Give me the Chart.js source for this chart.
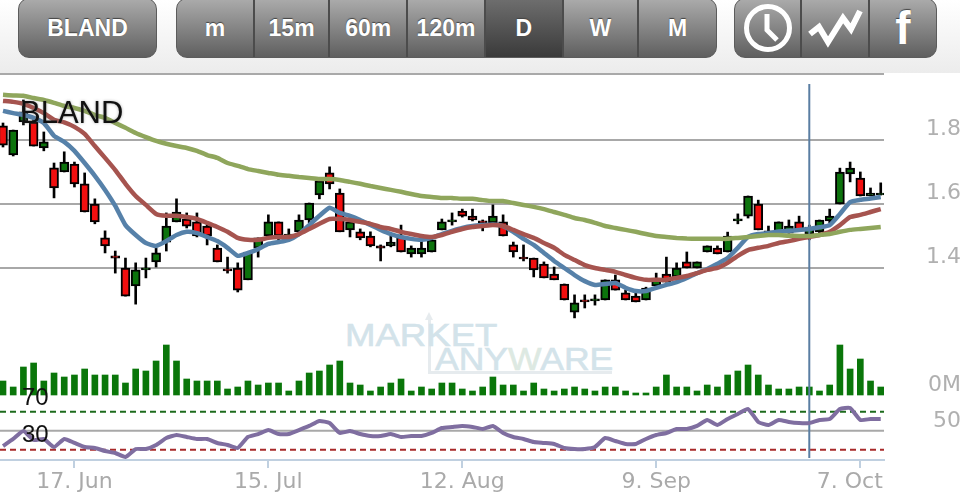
<!DOCTYPE html>
<html>
<head>
<meta charset="utf-8">
<title>BLAND</title>
<script src="https://cdn.jsdelivr.net/npm/chart.js@4"></script>
<style>
html, body { margin: 0; padding: 0; background: #fff; }
#page { position: relative; width: 960px; height: 494px; overflow: hidden; background: #fff; }
#head { position: absolute; left: 0; top: 0; width: 960px; height: 73px; background: linear-gradient(#ffffff, #ececec); }
#rule { position: absolute; left: 0; top: 73px; width: 884px; height: 2px; background: #a9a9a9; }
.group { position: absolute; top: -2px; height: 60px; border: 1px solid #5c5c5c; border-radius: 11px; overflow: hidden; display: flex;
  background: linear-gradient(#ababab, #5f5f5f); box-sizing: border-box; }
.seg { height: 100%; box-sizing: border-box; border-right: 2px solid #4c4c4c; color: #fff; font: bold 23px "Liberation Sans", sans-serif;
  display: flex; align-items: center; justify-content: center; text-shadow: 0 -1px 1px #444; }
.seg:last-child { border-right: 0; }
.seg.on { background: linear-gradient(#6e6e6e, #3a3a3a); }
#mark { position: absolute; left: 345px; top: 312px; width: 270px; height: 66px; color: #d3e3ea; font-family: "Liberation Sans", sans-serif; -webkit-text-stroke: 0.6px #d3e3ea; }
#mark div { position: absolute; white-space: nowrap; transform-origin: 0 0; }
#box { left: 83px; top: 6px; width: 184px; height: 56px; border-left: 3px solid #e6ebee; border-bottom: 3px solid #e6ebee; box-sizing: border-box; }
#tip { left: 80px; top: 0; width: 0; height: 0; border-left: 4.5px solid transparent; border-right: 4.5px solid transparent; border-bottom: 8px solid #e6ebee; }
canvas { position: absolute; left: 0; top: 0; }
</style>
</head>
<body>
<div id="page">
  <div id="head"></div>
  <div id="rule"></div>
  <div class="group" style="left:18px;width:139px"><div class="seg" style="width:100%">BLAND</div></div>
  <div class="group" style="left:176px;width:541px">
    <div class="seg" style="width:78px">m</div>
    <div class="seg" style="width:76px">15m</div>
    <div class="seg" style="width:78px">60m</div>
    <div class="seg" style="width:78px">120m</div>
    <div class="seg on" style="width:78px">D</div>
    <div class="seg" style="width:76px">W</div>
    <div class="seg" style="width:77px">M</div>
  </div>
  <div class="group" style="left:734px;width:203px">
    <div class="seg" style="width:67px">
      <svg width="52" height="52" viewBox="0 0 52 52"><circle cx="26" cy="26" r="21.5" fill="none" stroke="#fff" stroke-width="5"/><polyline points="25,12 25,28 35,38" fill="none" stroke="#fff" stroke-width="5"/></svg>
    </div>
    <div class="seg" style="width:68px">
      <svg width="56" height="44" viewBox="0 0 56 44"><polyline points="3,28 12,21 21,36 36,12 44,23 53,5" fill="none" stroke="#fff" stroke-width="6"/></svg>
    </div>
    <div class="seg" style="width:66px;font-size:46px">f</div>
  </div>
  <div id="mark">
    <div id="box"></div>
    <div id="tip"></div>
    <div style="left:0;top:6px;font-size:31px;transform:scaleX(1.18)">MARKET</div>
    <div style="left:90px;top:29px;font-size:32px;transform:scaleX(1.11)">ANY<span style="color:#dde9e2;-webkit-text-stroke-color:#dde9e2">W</span>ARE</div>
  </div>
  <canvas id="chart" width="960" height="494"></canvas>
</div>
<script>
// ticks
const dateTicks = [7, 26, 45, 64, 84];
const dateLabels = ['17. Jun', '15. Jul', '12. Aug', '9. Sep', '7. Oct'];
const priceTicks = [1.4, 1.6, 1.8];
const rsiLines = [70, 50, 30];

// daily candles
const opens = [1.844,1.753,1.856,1.856,1.775,1.713,1.700,1.725,1.663,1.600,
  1.494,1.438,1.400,1.344,1.394,1.419,1.481,1.544,1.553,1.544,
  1.531,1.462,1.397,1.400,1.363,1.462,1.500,1.544,1.500,1.513,
  1.550,1.628,1.697,1.634,1.519,1.513,1.500,1.469,1.469,1.497,
  1.444,1.444,1.450,1.519,1.544,1.578,1.562,1.547,1.541,1.544,
  1.472,1.434,1.431,1.412,1.381,1.350,1.262,1.300,1.297,1.300,
  1.363,1.322,1.312,1.300,1.344,1.381,1.372,1.419,1.400,1.450,
  1.462,1.450,1.547,1.562,1.600,1.509,1.509,1.509,1.544,1.506,
  1.513,1.547,1.600,1.694,1.681,1.625,1.628];
const highs = [1.853,1.831,1.925,1.869,1.825,1.728,1.763,1.731,1.697,1.616,
  1.516,1.453,1.431,1.416,1.431,1.462,1.572,1.616,1.572,1.572,
  1.541,1.472,1.434,1.416,1.450,1.494,1.566,1.544,1.522,1.566,
  1.603,1.672,1.716,1.647,1.559,1.522,1.513,1.472,1.500,1.534,
  1.469,1.494,1.497,1.553,1.572,1.584,1.584,1.550,1.597,1.566,
  1.481,1.472,1.431,1.419,1.403,1.350,1.316,1.316,1.316,1.363,
  1.378,1.331,1.322,1.340,1.384,1.434,1.416,1.450,1.419,1.469,
  1.469,1.512,1.569,1.625,1.612,1.531,1.544,1.550,1.562,1.534,
  1.550,1.584,1.712,1.731,1.700,1.650,1.666];
const lows = [1.778,1.750,1.847,1.781,1.766,1.619,1.700,1.653,1.575,1.538,
  1.447,1.384,1.312,1.287,1.369,1.403,1.453,1.544,1.525,1.497,
  1.472,1.419,1.384,1.325,1.363,1.434,1.500,1.488,1.494,1.513,
  1.541,1.616,1.647,1.513,1.497,1.488,1.466,1.422,1.466,1.450,
  1.434,1.434,1.450,1.519,1.534,1.559,1.547,1.516,1.541,1.500,
  1.434,1.422,1.372,1.369,1.363,1.300,1.244,1.275,1.284,1.300,
  1.331,1.300,1.294,1.300,1.344,1.356,1.372,1.400,1.400,1.450,
  1.444,1.450,1.538,1.556,1.519,1.506,1.503,1.509,1.519,1.488,
  1.509,1.541,1.600,1.669,1.625,1.625,1.628];
const closes = [1.784,1.831,1.888,1.781,1.794,1.650,1.731,1.663,1.575,1.544,
  1.469,1.431,1.312,1.394,1.400,1.447,1.531,1.575,1.531,1.500,
  1.500,1.419,1.391,1.331,1.450,1.494,1.544,1.500,1.506,1.550,
  1.603,1.672,1.663,1.513,1.544,1.494,1.469,1.462,1.481,1.450,
  1.462,1.462,1.488,1.544,1.550,1.562,1.550,1.541,1.562,1.500,
  1.450,1.428,1.394,1.369,1.363,1.300,1.291,1.294,1.303,1.363,
  1.331,1.300,1.294,1.337,1.363,1.356,1.400,1.400,1.419,1.469,
  1.444,1.500,1.553,1.625,1.519,1.516,1.544,1.531,1.519,1.528,
  1.550,1.562,1.700,1.712,1.625,1.634,1.631];

// moving averages
const maShort = [1.891,1.884,1.878,1.869,1.853,1.813,1.794,1.766,1.728,1.688,
  1.644,1.594,1.534,1.503,1.478,1.469,1.484,1.503,1.513,1.509,
  1.497,1.484,1.463,1.438,1.447,1.459,1.475,1.481,1.488,1.506,
  1.534,1.563,1.588,1.572,1.563,1.550,1.534,1.519,1.506,1.497,
  1.491,1.488,1.494,1.506,1.516,1.525,1.531,1.534,1.536,1.531,
  1.513,1.491,1.472,1.447,1.422,1.400,1.378,1.359,1.347,1.350,
  1.353,1.338,1.328,1.328,1.338,1.347,1.356,1.369,1.384,1.397,
  1.413,1.431,1.463,1.497,1.506,1.509,1.514,1.516,1.519,1.522,
  1.527,1.534,1.569,1.606,1.613,1.617,1.622];
const maMid = [1.922,1.919,1.913,1.900,1.884,1.863,1.855,1.841,1.819,1.781,
  1.744,1.706,1.663,1.625,1.597,1.569,1.563,1.563,1.559,1.553,
  1.541,1.528,1.513,1.494,1.488,1.488,1.494,1.497,1.497,1.506,
  1.522,1.538,1.553,1.553,1.550,1.544,1.538,1.528,1.522,1.513,
  1.506,1.500,1.497,1.503,1.513,1.522,1.528,1.531,1.534,1.531,
  1.519,1.506,1.494,1.478,1.463,1.441,1.425,1.409,1.400,1.394,
  1.388,1.378,1.369,1.363,1.363,1.363,1.369,1.375,1.384,1.394,
  1.400,1.416,1.438,1.456,1.463,1.469,1.478,1.484,1.491,1.497,
  1.503,1.513,1.534,1.559,1.566,1.575,1.584];
const maLong = [1.941,1.939,1.938,1.931,1.925,1.916,1.906,1.900,1.891,1.878,
  1.869,1.853,1.838,1.822,1.809,1.797,1.788,1.781,1.775,1.766,
  1.753,1.744,1.728,1.719,1.709,1.703,1.697,1.691,1.688,1.684,
  1.681,1.678,1.678,1.675,1.669,1.663,1.656,1.650,1.644,1.638,
  1.631,1.625,1.622,1.619,1.619,1.616,1.616,1.612,1.609,1.609,
  1.603,1.597,1.591,1.584,1.575,1.566,1.556,1.550,1.541,1.531,
  1.525,1.519,1.513,1.506,1.500,1.497,1.494,1.492,1.491,1.491,
  1.491,1.491,1.494,1.497,1.500,1.503,1.503,1.501,1.500,1.500,
  1.503,1.506,1.513,1.519,1.522,1.525,1.528];

// volume, thousands of shares
const volume = [140,80,280,320,140,220,180,200,260,200,
  200,200,120,260,240,340,500,340,160,140,
  140,140,60,80,140,100,120,120,40,140,
  220,240,300,340,120,100,40,80,120,160,
  40,80,60,120,120,60,40,80,180,100,
  100,40,120,60,40,60,80,60,40,80,
  80,40,20,20,80,200,80,80,40,100,
  80,200,240,300,200,100,60,60,80,80,
  40,100,500,260,360,140,80];

// RSI
const rsi = [34,41.4,49.8,40.3,41.4,32.9,41.4,37.2,32.9,31.9,
  28.7,26.6,22.4,30.8,30.8,35.1,42.4,45.6,43.5,41.4,
  41.4,37.2,35.1,31.9,43.5,46.6,50.8,46.6,46.6,50.8,
  55.1,60.3,58.2,47.7,49.8,46.6,44.5,44.5,46.6,43.5,
  44.5,44.5,47.7,52.9,54,55.1,54,51.9,55.1,47.7,
  43.5,41.4,38.2,37.2,36.1,31.9,30.8,30.8,32.9,42.4,
  39.3,36.1,36.1,41.4,45.6,47.7,51.9,51.9,55.1,61.4,
  56.1,62.4,67.7,72.9,59.3,56.1,61.4,59.3,58.2,58.2,
  61.4,62.4,72.9,74,61.4,62.4,62.4];

// crosshair sits on this candle
const crossIndex = 79;
const crossRange = [0.806, 1.975];

const xMin = -0.294;
const xMax = 86.32;

function series(values) {
    return values.map(function (v, i) { return { x: i, y: v }; });
}

function lineSet(values, color, axis, order, width) {
    return {
        type: 'line', data: series(values), yAxisID: axis, order: order,
        borderColor: color, borderWidth: width, pointRadius: 0, tension: 0.15, borderJoinStyle: 'round'
    };
}

function levelSet(value, color, dash) {
    return {
        type: 'line', data: [{ x: xMin, y: value }, { x: xMax, y: value }], yAxisID: 'yRsi', order: 9,
        borderColor: color, borderWidth: 2, borderDash: dash, pointRadius: 0
    };
}

const wicks = highs.map(function (h, i) { return { x: i, y: [lows[i], h] }; });
const bodies = opens.map(function (o, i) { return { x: i, y: [o, closes[i]] }; });
const bodyColors = opens.map(function (o, i) { return closes[i] >= o ? '#0c730c' : '#f20f0f'; });

// axis labels sit above their grid lines and run off the right edge, text over the plot
const overlayText = {
    id: 'overlayText',
    afterDraw: function (chart) {
        const ctx = chart.ctx;
        const s = chart.scales;
        ctx.save();
        ctx.textBaseline = 'middle';
        ctx.textAlign = 'left';
        ctx.fillStyle = '#b0b0b0';
        ctx.font = '22px "DejaVu Sans"';
        priceTicks.forEach(function (v) {
            ctx.fillText(v.toFixed(1), 926, s.y.getPixelForValue(v) - 11);
        });
        ctx.fillText('0M', 928, s.yVol.getPixelForValue(0) - 10);
        ctx.fillText('50', 933, s.yRsi.getPixelForValue(50) - 10);
        ctx.fillStyle = '#111';
        ctx.font = '24px "Liberation Sans"';
        ctx.fillText('70', 22, s.yRsi.getPixelForValue(70) - 13);
        ctx.fillText('30', 22, s.yRsi.getPixelForValue(30) - 14);
        ctx.font = '31px "Liberation Sans"';
        ctx.shadowColor = 'rgba(120,120,120,0.6)';
        ctx.shadowBlur = 3;
        ctx.fillText('BLAND', 20, 114);
        ctx.restore();
    }
};

new Chart(document.getElementById('chart').getContext('2d'), {
    type: 'bar',
    data: {
        datasets: [
            { data: wicks, grouped: false, barThickness: 2, backgroundColor: '#000', order: 7 },
            {
                data: bodies, grouped: false, barThickness: 9, minBarLength: 2,
                backgroundColor: bodyColors, borderColor: '#000', borderWidth: 2, borderSkipped: false, order: 6
            },
            { data: series(volume), yAxisID: 'yVol', grouped: false, barThickness: 6, backgroundColor: '#0a760a', order: 8 },
            levelSet(rsiLines[0], '#1c6b1c', [6, 4]),
            levelSet(rsiLines[1], '#a8a8a8', []),
            levelSet(rsiLines[2], '#a82a2a', [6, 4]),
            {
                type: 'line', data: [{ x: crossIndex, y: crossRange[0] }, { x: crossIndex, y: crossRange[1] }],
                borderColor: '#5a7ea3', borderWidth: 2, pointRadius: 0, order: 4
            },
            lineSet(maShort, '#5681a9', 'y', 3, 4.5),
            lineSet(maMid, '#a6544f', 'y', 2, 4.5),
            lineSet(maLong, '#8fa65c', 'y', 1, 4.5),
            lineSet(rsi, '#7f6ea0', 'yRsi', 1, 4)
        ]
    },
    plugins: [overlayText],
    options: {
        responsive: false,
        animation: false,
        events: [],
        layout: { padding: { left: 0, right: 76, top: 75, bottom: 0 } },
        plugins: { legend: { display: false }, tooltip: { enabled: false } },
        scales: {
            x: {
                type: 'linear',
                offset: false,
                min: xMin,
                max: xMax,
                afterBuildTicks: function (scale) {
                    scale.ticks = dateTicks.map(function (v) { return { value: v }; });
                },
                afterFit: function (scale) { scale.height = 34; },
                grid: { offset: false, drawOnChartArea: false, color: '#c0d0e0', lineWidth: 2, tickLength: 8 },
                border: { color: '#c0d0e0', width: 2 },
                ticks: {
                    autoSkip: false, maxRotation: 0, padding: 1, color: '#aaaaaa',
                    font: { family: '"DejaVu Sans"', size: 22 },
                    callback: function (v) {
                        // last label is pulled in so it stays inside the plot width
                        const i = dateTicks.indexOf(v);
                        return i === dateTicks.length - 1 ? dateLabels[i] + '   ' : dateLabels[i];
                    }
                }
            },
            y: {
                position: 'left',
                min: 0.8,
                max: 2.003,
                afterBuildTicks: function (scale) {
                    scale.ticks = priceTicks.map(function (v) { return { value: v }; });
                },
                afterFit: function (scale) { scale.width = 0; },
                grid: { color: '#a8a8a8', lineWidth: 2, drawTicks: false },
                border: { display: false },
                ticks: { display: false }
            },
            yVol: { display: false, min: -650, max: 3200 },
            yRsi: { display: false, min: 19.26, max: 424.5 }
        }
    }
});
</script>
</body>
</html>
